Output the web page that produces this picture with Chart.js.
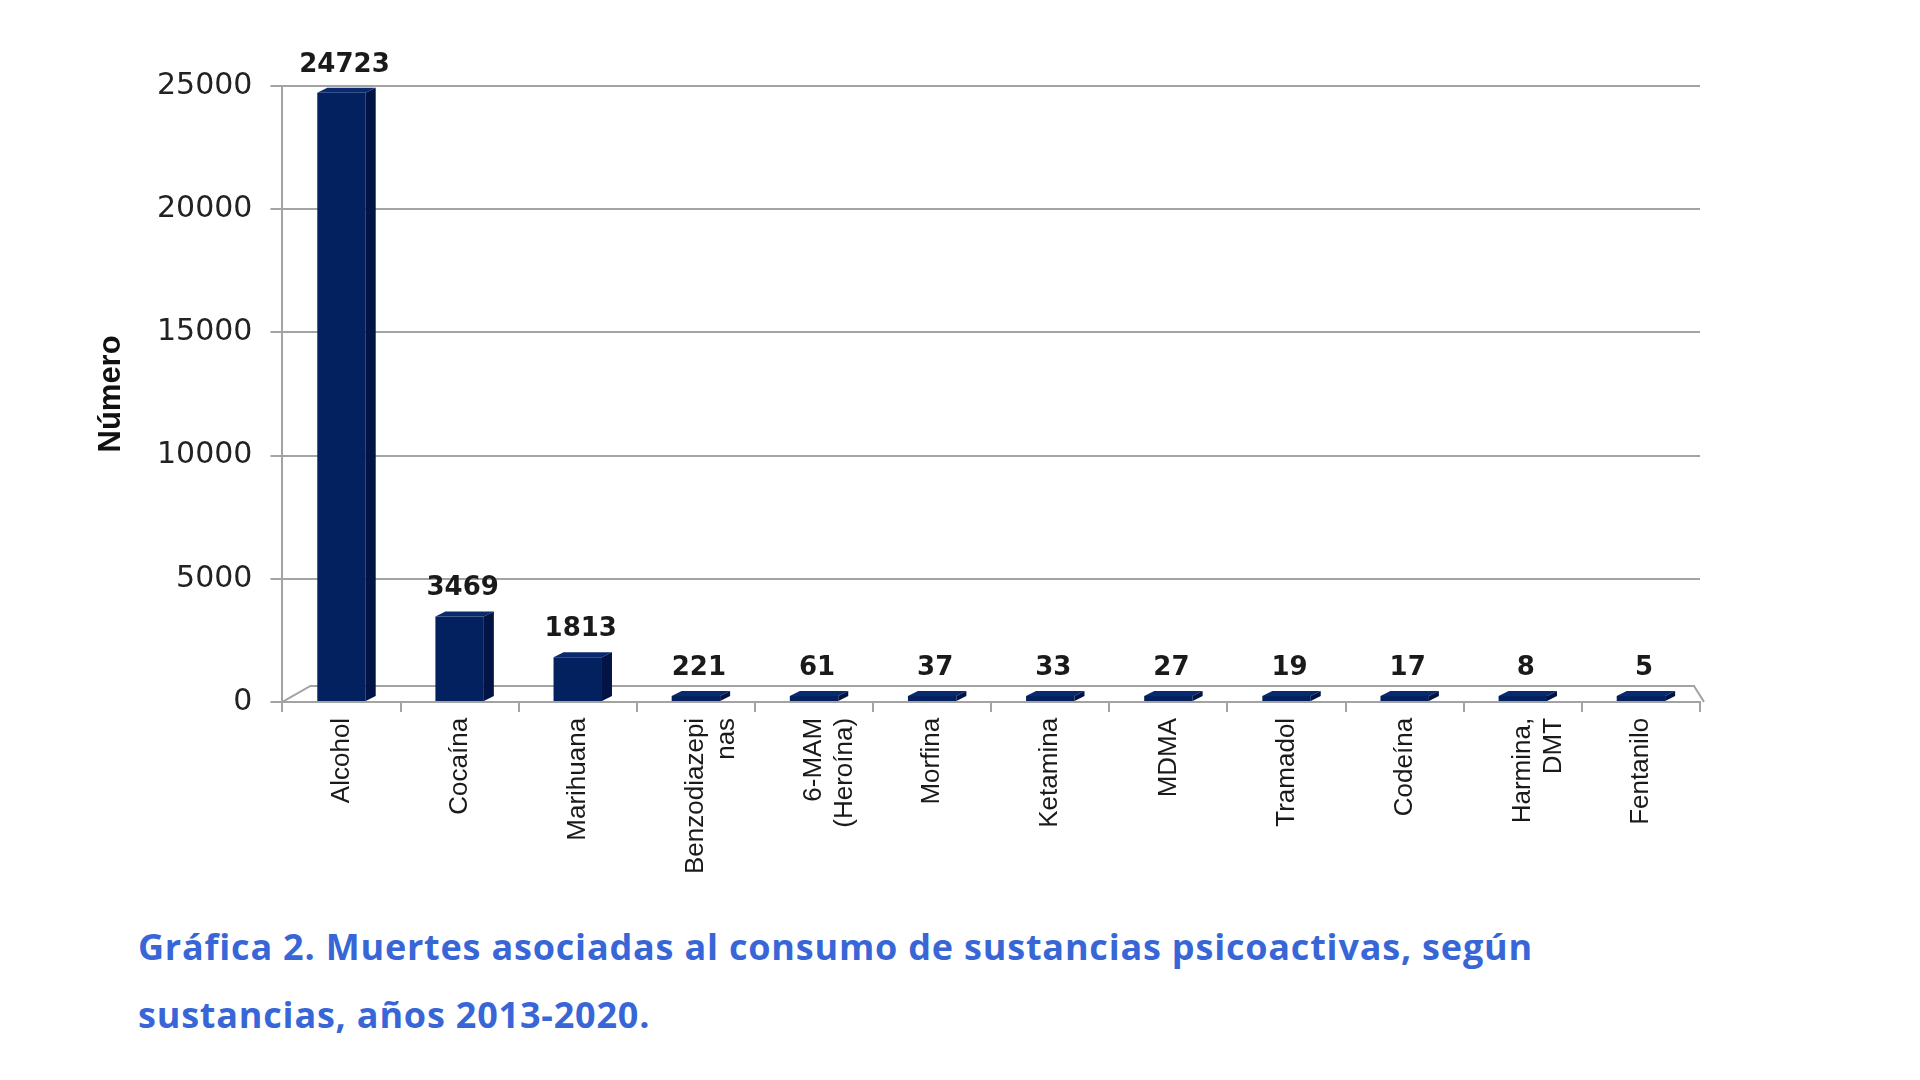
<!DOCTYPE html>
<html>
<head>
<meta charset="utf-8">
<script src="https://cdn.jsdelivr.net/npm/chart.js@4.4.1/dist/chart.umd.min.js"></script>
<style>
  html, body { margin: 0; padding: 0; background: #ffffff; }
  #wrap { position: absolute; left: 0; top: 0; width: 1920px; height: 900px; }
  #caption {
    position: absolute; left: 138px; top: 913px; width: 1780px;
    font-family: "Open Sans", Roboto, sans-serif; font-weight: 700;
    font-size: 36px; line-height: 68px; color: #3866d6; letter-spacing: 0.8px;
  }
</style>
</head>
<body>
<div id="wrap"><canvas id="c"></canvas></div>
<div id="caption">Gráfica 2. Muertes asociadas al consumo de sustancias psicoactivas, según<br>sustancias, años 2013-2020.</div>
<script>
// ---- data ----
const categories = [
  'Alcohol', 'Cocaína', 'Marihuana', ['Benzodiazepi', 'nas'], ['6-MAM', '(Heroína)'],
  'Morfina', 'Ketamina', 'MDMA', 'Tramadol', 'Codeína', ['Harmina,', 'DMT'], 'Fentanilo'
];
const deaths = [24723, 3469, 1813, 221, 61, 37, 33, 27, 19, 17, 8, 5];
const yMin = 0;
const yMax = 25000;
const yStep = 5000;
const yTitle = 'Número';

// ---- styling ----
const FRONT = '#03205f';
const SIDE = '#011443';
const TOP = '#0a2a70';
const GRID = '#a3a3a3';
const DX = 10, DY = 5;

const floorPlugin = {
  id: 'floor3d',
  beforeDatasetsDraw(chart) {
    const ctx = chart.ctx;
    const ys = chart.scales.y;
    const ca = chart.chartArea;
    const y0 = ys.getPixelForValue(0);
    ctx.save();
    ctx.strokeStyle = GRID;
    ctx.lineWidth = 2;
    ctx.beginPath();
    ctx.moveTo(ca.left, y0);
    ctx.lineTo(ca.left + 28, y0 - 16);
    ctx.lineTo(ca.right - 6, y0 - 16);
    ctx.lineTo(ca.right + 4, y0);
    ctx.stroke();
    ctx.restore();
  }
};

const bar3dPlugin = {
  id: 'bar3d',
  afterDatasetsDraw(chart) {
    const ctx = chart.ctx;
    const meta = chart.getDatasetMeta(0);
    const ds = chart.data.datasets[0];
    ctx.save();
    meta.data.forEach((bar, i) => {
      const p = bar.getProps(['x', 'y', 'base', 'width'], true);
      const L = p.x - p.width / 2, R = p.x + p.width / 2;
      const T = Math.min(p.y, p.base), B = Math.max(p.y, p.base);
      ctx.fillStyle = TOP;
      ctx.beginPath();
      ctx.moveTo(L, T); ctx.lineTo(L + DX, T - DY); ctx.lineTo(R + DX, T - DY); ctx.lineTo(R, T);
      ctx.closePath(); ctx.fill();
      ctx.fillStyle = SIDE;
      ctx.beginPath();
      ctx.moveTo(R, T); ctx.lineTo(R + DX, T - DY); ctx.lineTo(R + DX, B - DY); ctx.lineTo(R, B);
      ctx.closePath(); ctx.fill();
      ctx.fillStyle = '#1a1a1a';
      ctx.font = 'bold 26px "DejaVu Sans", sans-serif';
      ctx.textAlign = 'center';
      ctx.textBaseline = 'middle';
      ctx.fillText(String(ds.data[i]), p.x + 3, T - 28);
    });
    ctx.restore();
  }
};

new Chart(document.getElementById('c'), {
  type: 'bar',
  data: {
    labels: categories,
    datasets: [{
      data: deaths,
      backgroundColor: FRONT,
      borderWidth: 0,
      minBarLength: 6,
      categoryPercentage: 1.0,
      barPercentage: 0.41
    }]
  },
  options: {
    responsive: true,
    maintainAspectRatio: false,
    animation: false,
    layout: { padding: { left: 92, right: 220, top: 86, bottom: 20 } },
    plugins: {
      legend: { display: false },
      tooltip: { enabled: false },
      title: { display: false }
    },
    scales: {
      x: {
        grid: { display: true, drawOnChartArea: false, drawTicks: true, tickLength: 10, color: GRID, lineWidth: 2, offset: true },
        border: { display: true, color: GRID, width: 2 },
        ticks: {
          autoSkip: false, minRotation: 90, maxRotation: 90, padding: 6,
          color: '#1a1a1a',
          font: { family: '"Liberation Sans", Arial, sans-serif', size: 26 }
        }
      },
      y: {
        min: yMin, max: yMax,
        ticks: {
          stepSize: yStep, padding: 18, color: '#222222',
          font: { family: '"DejaVu Sans", sans-serif', size: 30 },
          callback: (v) => String(v)
        },
        grid: { color: GRID, lineWidth: 2, tickLength: 12, drawTicks: true },
        border: { display: true, color: GRID, width: 2 },
        title: {
          display: true, text: yTitle, color: '#111111',
          font: { family: '"Liberation Sans", Arial, sans-serif', size: 31, weight: 'bold', lineHeight: 1.0 },
          padding: { top: 4, bottom: 12 }
        }
      }
    }
  },
  plugins: [floorPlugin, bar3dPlugin]
});
</script>
</body>
</html>
